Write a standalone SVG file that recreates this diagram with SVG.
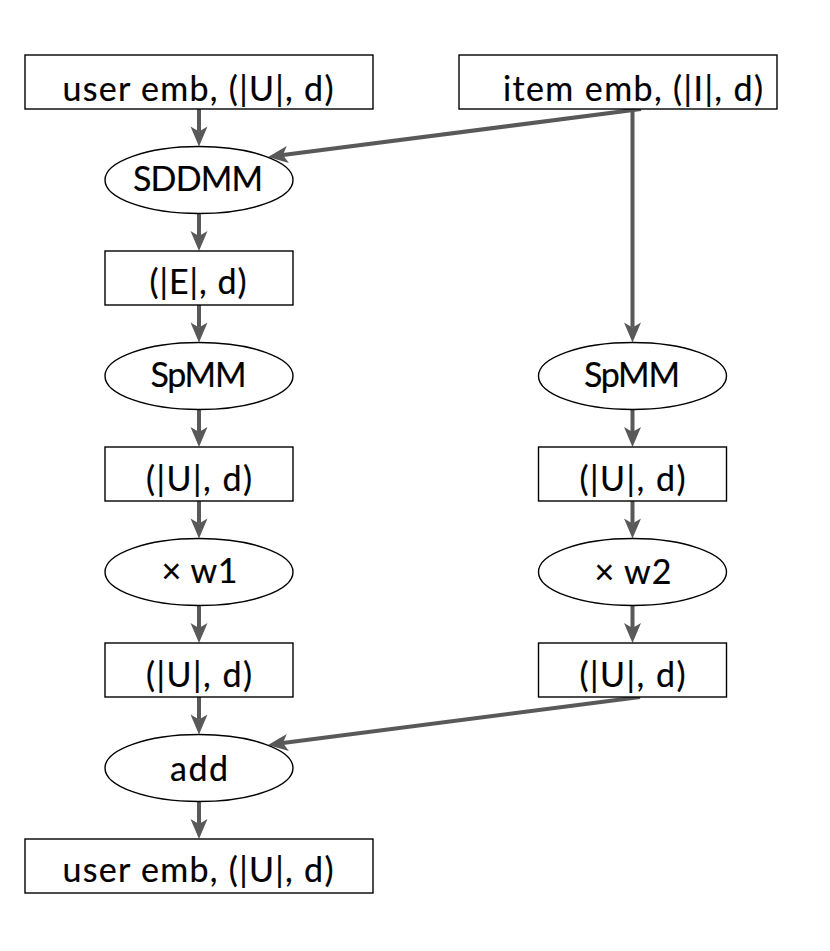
<svg xmlns="http://www.w3.org/2000/svg" width="830" height="951" viewBox="0 0 830 951">
<style>
.n{fill:#fff;stroke:#000;stroke-width:1.4}
.t{font-family:Lato,"Liberation Sans",sans-serif;font-size:34px;fill:#000;stroke:#000;stroke-width:0.2;text-anchor:middle}
.e{fill:none;stroke:#595959;stroke-width:4;marker-end:url(#ah)}
</style>
<defs>
<marker id="ah" markerUnits="userSpaceOnUse" markerWidth="22" markerHeight="18" refX="5" refY="8.5" orient="auto" overflow="visible">
<path d="M0,0 L20,8.5 L0,17 L5,8.5 Z" fill="#595959"/>
</marker>
</defs>
<rect width="830" height="951" fill="#fff"/>
<g id="connectors">
<line class="e" x1="199" y1="109" x2="199" y2="131.5"/>
<line class="e" x1="641" y1="109" x2="282.9" y2="155.1"/>
<line class="e" x1="632.5" y1="109" x2="632.5" y2="327.5"/>
<line class="e" x1="199" y1="213.5" x2="199" y2="236"/>
<line class="e" x1="199" y1="305" x2="199" y2="327.5"/>
<line class="e" x1="199" y1="409.5" x2="199" y2="432"/>
<line class="e" x1="199" y1="501" x2="199" y2="523.5"/>
<line class="e" x1="199" y1="605.5" x2="199" y2="628"/>
<line class="e" x1="199" y1="697" x2="199" y2="719.5"/>
<line class="e" x1="199" y1="801.5" x2="199" y2="824"/>
<line class="e" x1="632.5" y1="409.5" x2="632.5" y2="432"/>
<line class="e" x1="632.5" y1="501" x2="632.5" y2="523.5"/>
<line class="e" x1="632.5" y1="605.5" x2="632.5" y2="628"/>
<line class="e" x1="640" y1="697" x2="282.9" y2="743.1"/>
</g>
<g id="user_emb_in"><rect class="n" x="25" y="55" width="348" height="54"/><text class="t" x="198" y="101" textLength="271" lengthAdjust="spacing">user emb, (|U|, d)</text></g>
<g id="item_emb"><rect class="n" x="459" y="55" width="318" height="54"/><text class="t" x="633" y="101" textLength="260" lengthAdjust="spacing">item emb, (|I|, d)</text></g>
<g id="sddmm"><ellipse class="n" cx="199" cy="180" rx="94" ry="33.5"/><text class="t" x="198" y="191" textLength="130" lengthAdjust="spacing">SDDMM</text></g>
<g id="e_d"><rect class="n" x="105" y="251" width="188" height="54"/><text class="t" x="198" y="294" textLength="97" lengthAdjust="spacing">(|E|, d)</text></g>
<g id="spmm1"><ellipse class="n" cx="199" cy="376" rx="94" ry="33.5"/><text class="t" x="198.5" y="387" textLength="96" lengthAdjust="spacing">SpMM</text></g>
<g id="u_d1"><rect class="n" x="105" y="447" width="188" height="54"/><text class="t" x="199" y="491" textLength="106" lengthAdjust="spacing">(|U|, d)</text></g>
<g id="w1"><ellipse class="n" cx="199" cy="572" rx="94" ry="33.5"/><text class="t" x="199.5" y="583" textLength="76" lengthAdjust="spacing">× w1</text></g>
<g id="u_d2"><rect class="n" x="105" y="643" width="188" height="54"/><text class="t" x="199" y="687" textLength="106" lengthAdjust="spacing">(|U|, d)</text></g>
<g id="add"><ellipse class="n" cx="199" cy="768" rx="94" ry="33.5"/><text class="t" x="199" y="781" textLength="58" lengthAdjust="spacing">add</text></g>
<g id="user_emb_out"><rect class="n" x="25" y="839" width="348" height="54"/><text class="t" x="198" y="882" textLength="271" lengthAdjust="spacing">user emb, (|U|, d)</text></g>
<g id="spmm2"><ellipse class="n" cx="632.5" cy="376" rx="94" ry="33.5"/><text class="t" x="632" y="387" textLength="96" lengthAdjust="spacing">SpMM</text></g>
<g id="u_d3"><rect class="n" x="538.5" y="447" width="188" height="54"/><text class="t" x="632.5" y="491" textLength="106" lengthAdjust="spacing">(|U|, d)</text></g>
<g id="w2"><ellipse class="n" cx="632.5" cy="572" rx="94" ry="33.5"/><text class="t" x="633" y="584" textLength="77" lengthAdjust="spacing">× w2</text></g>
<g id="u_d4"><rect class="n" x="538.5" y="643" width="188" height="54"/><text class="t" x="632.5" y="687" textLength="106" lengthAdjust="spacing">(|U|, d)</text></g>
</svg>
